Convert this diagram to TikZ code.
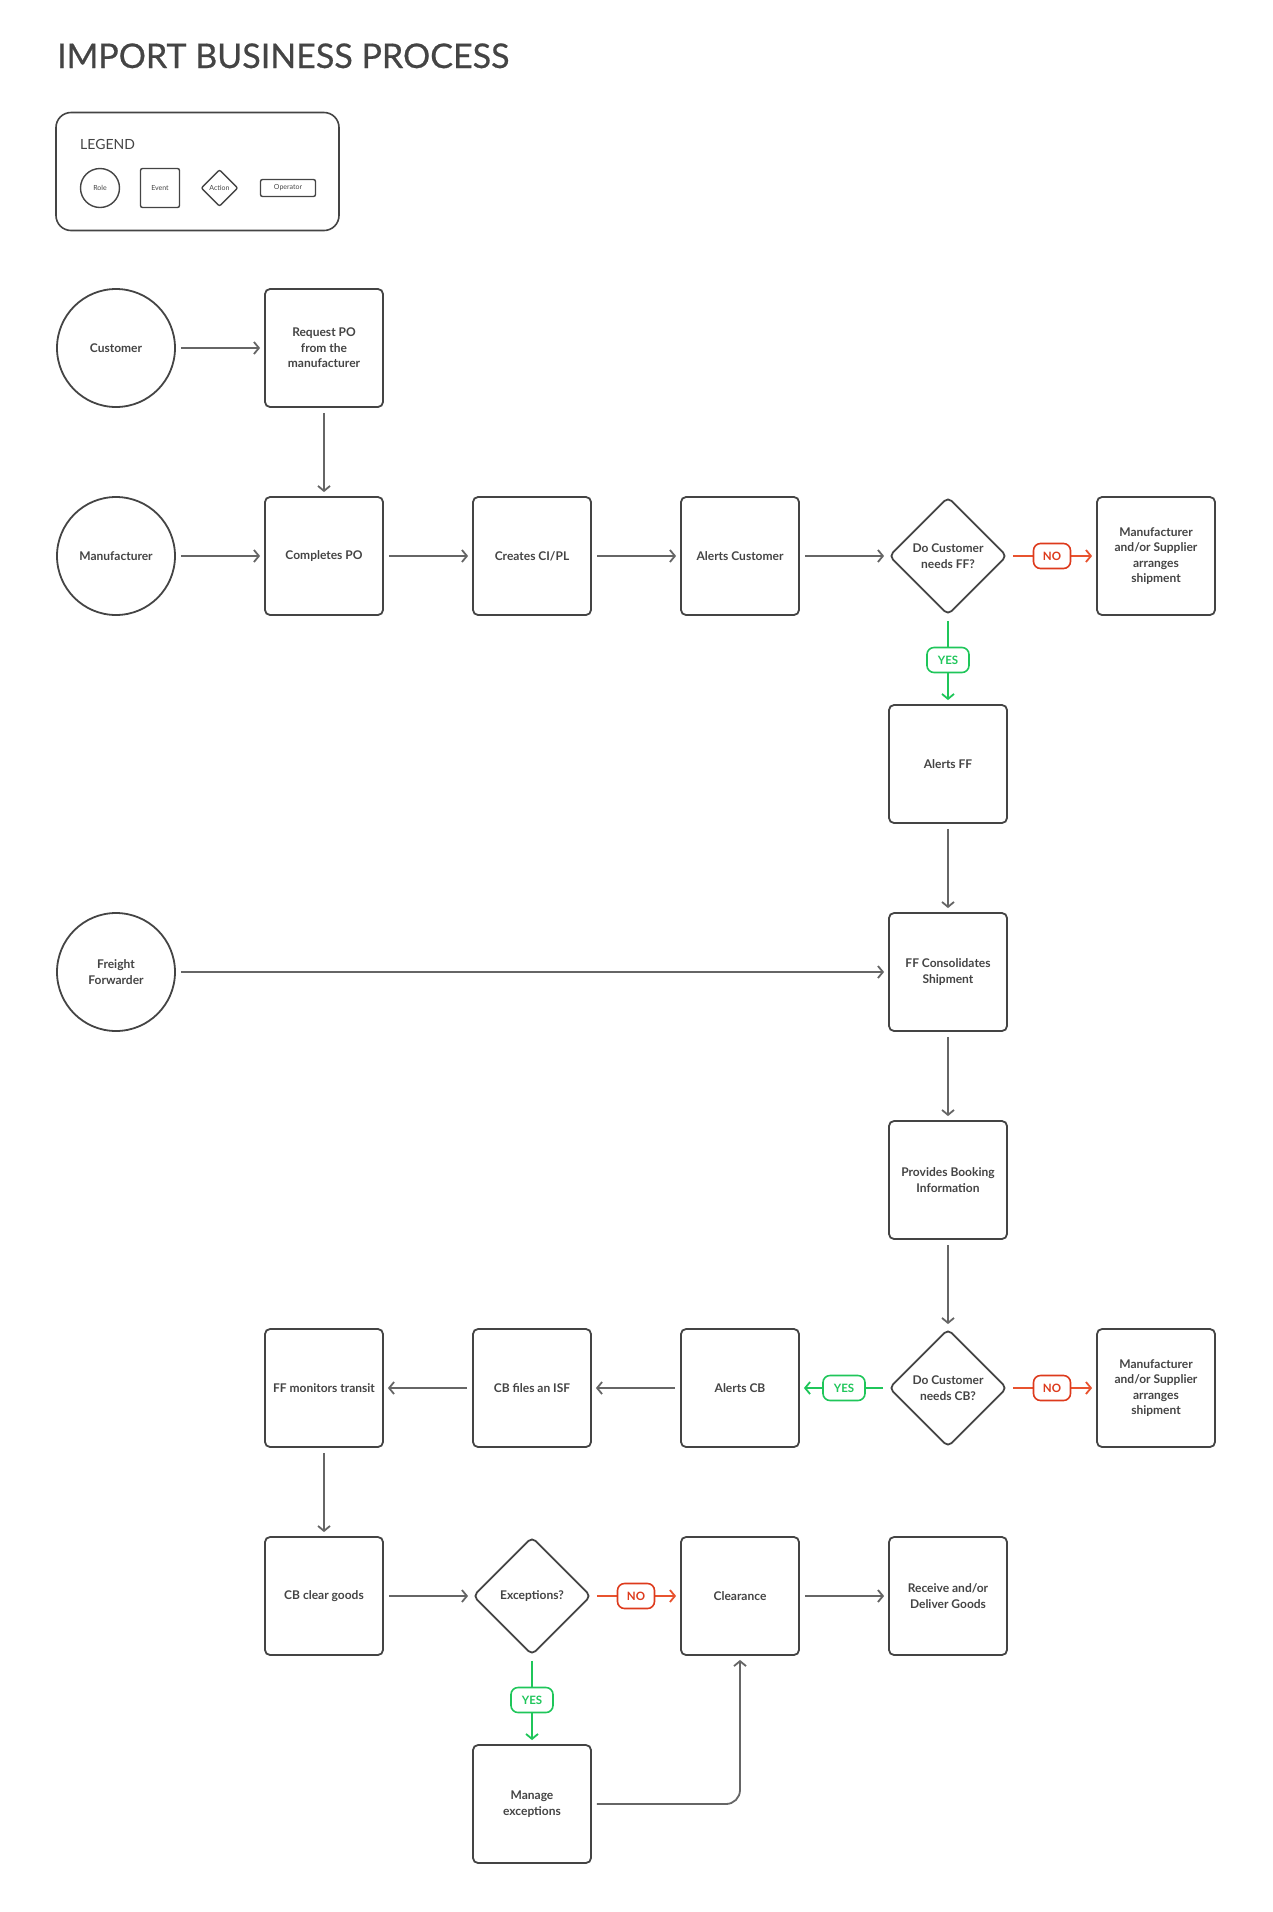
\documentclass[tikz,border=0pt]{standalone}
\usepackage{fontspec}
\setmainfont{Lato}
\newfontfamily\titlefont{Lato}[FakeBold=0.6]
\usepackage{tikz}
\usetikzlibrary{arrows.meta,shapes.geometric,positioning}
\definecolor{ink}{HTML}{444444}
\definecolor{wire}{HTML}{666666}
\definecolor{nored}{HTML}{DD3A1C}
\definecolor{noline}{HTML}{E8532F}
\definecolor{yesgreen}{HTML}{1FC65A}

\begin{document}
\begin{tikzpicture}[x=1pt,y=-1pt,on grid,node distance=208pt,
  font=\fontsize{12}{15.5}\selectfont\bfseries]
\tikzstyle{role}=[circle,draw=ink,line width=1.8pt,minimum size=118pt,text=ink,align=center,inner sep=2pt]
\tikzstyle{event}=[rectangle,rounded corners=5pt,draw=ink,line width=1.8pt,minimum size=118pt,text=ink,align=center,inner sep=2pt]
\tikzstyle{action}=[diamond,aspect=1,rounded corners=5pt,draw=ink,line width=1.8pt,minimum size=118pt,text=ink,align=center,inner sep=1pt]
\tikzstyle{flow}=[draw=wire,line width=1.8pt,-{Straight Barb[length=5pt,width=12pt]},shorten <=5pt,shorten >=4pt]
\tikzstyle{noflow}=[flow,draw=noline]
\tikzstyle{yesflow}=[flow,draw=yesgreen]
\tikzstyle{nolabel}=[rectangle,draw=nored,text=nored,fill=white,rounded corners=7pt,line width=1.6pt,minimum width=37pt,minimum height=25pt,inner sep=2pt,font=\fontsize{11.5}{12}\selectfont\bfseries]
\tikzstyle{yeslabel}=[nolabel,draw=yesgreen,text=yesgreen,minimum width=42pt]
\tikzstyle{key}=[line width=1.4pt,rounded corners=2pt,font=\fontsize{7}{8}\selectfont]
\useasboundingbox (0,0) rectangle (1272,1912);

% title and legend
\node[anchor=base west,inner sep=0pt,text=ink,font=\titlefont\fontsize{34}{40}\selectfont] (title) at (57,68) {IMPORT BUSINESS PROCESS};
\node[rectangle,draw=ink,line width=1.6pt,rounded corners=15pt,minimum width=283pt,minimum height=118pt] (legend) at (197.5,171.5) {};
\node[anchor=west,inner sep=0pt,text=ink,font=\fontsize{14}{16}\selectfont] (legendtitle) at (80,144) {LEGEND};
\node[role,key,minimum size=39pt] (keyrole) at (100,188) {Role};
\node[event,key,minimum size=39pt] (keyevent) at (160,188) {Event};
\node[action,key,minimum size=37pt] (keyaction) at (219.5,188) {Action};
\node[event,key,minimum width=55pt,minimum height=17pt] (keyoperator) at (288,188) {Operator};

% main flow
\node[role] (customer) at (116,348) {Customer};
\node[event,right=of customer] (request) {Request PO\\from the\\manufacturer};
\node[event,below=of request] (completes) {Completes PO};
\node[role,left=of completes] (manufacturer) {Manufacturer};
\node[event,right=of completes] (cipl) {Creates CI/PL};
\node[event,right=of cipl] (alertcust) {Alerts Customer};
\node[action,right=of alertcust] (needff) {Do Customer\\needs FF?};
\node[event,right=of needff] (supplier1) {Manufacturer\\and/or Supplier\\arranges\\shipment};
\node[event,below=of needff] (alertff) {Alerts FF};
\node[event,below=of alertff] (consol) {FF Consolidates\\Shipment};
\node[role] (forwarder) at (manufacturer |- consol) {Freight\\Forwarder};
\node[event,below=of consol] (booking) {Provides Booking\\Information};
\node[action,below=of booking] (needcb) {Do Customer\\needs CB?};
\node[event,right=of needcb] (supplier2) {Manufacturer\\and/or Supplier\\arranges\\shipment};
\node[event,left=of needcb] (alertcb) {Alerts CB};
\node[event,left=of alertcb] (isf) {CB files an ISF};
\node[event,left=of isf] (monitor) {FF monitors transit};
\node[event,below=of monitor] (cleargoods) {CB clear goods};
\node[action,right=of cleargoods] (exceptions) {Exceptions?};
\node[event,right=of exceptions] (clearance) {Clearance};
\node[event,right=of clearance] (deliver) {Receive and/or\\Deliver Goods};
\node[event,below=of exceptions] (manage) {Manage\\exceptions};

\draw[flow] (customer) -- (request);
\draw[flow] (request) -- (completes);
\draw[flow] (manufacturer) -- (completes);
\draw[flow] (completes) -- (cipl);
\draw[flow] (cipl) -- (alertcust);
\draw[flow] (alertcust) -- (needff);
\draw[noflow] (needff) -- node[nolabel] {NO} (supplier1);
\draw[yesflow] (needff) -- node[yeslabel] {YES} (alertff);
\draw[flow] (alertff) -- (consol);
\draw[flow] (forwarder) -- (consol);
\draw[flow] (consol) -- (booking);
\draw[flow] (booking) -- (needcb);
\draw[noflow] (needcb) -- node[nolabel] {NO} (supplier2);
\draw[yesflow] (needcb) -- node[yeslabel] {YES} (alertcb);
\draw[flow] (alertcb) -- (isf);
\draw[flow] (isf) -- (monitor);
\draw[flow] (monitor) -- (cleargoods);
\draw[flow] (cleargoods) -- (exceptions);
\draw[noflow] (exceptions) -- node[nolabel] {NO} (clearance);
\draw[yesflow] (exceptions) -- node[yeslabel] {YES} (manage);
\draw[flow] (clearance) -- (deliver);
\draw[flow,rounded corners=14pt] (manage.east) -| (clearance.south);
\end{tikzpicture}
\end{document}
